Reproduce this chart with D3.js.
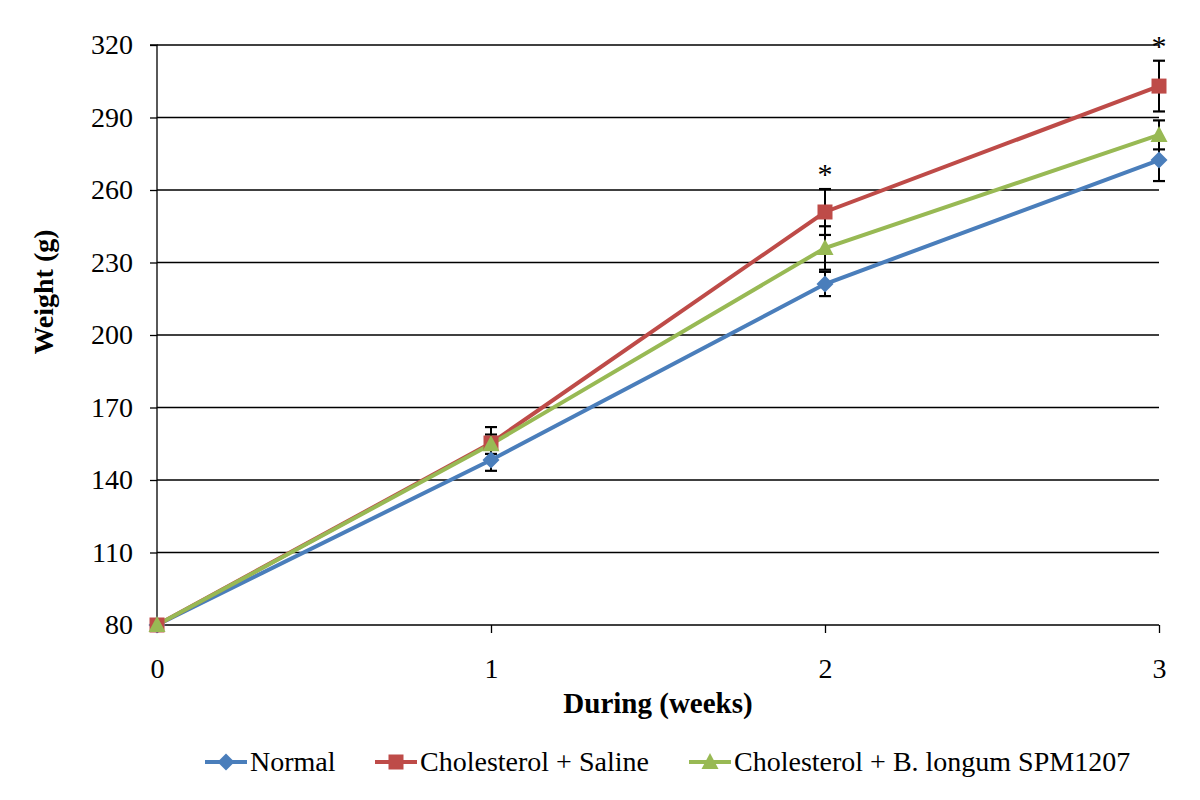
<!DOCTYPE html>
<html><head><meta charset="utf-8">
<script src="https://cdn.jsdelivr.net/npm/d3@7"></script>
<style>body{margin:0;background:#fff}svg{display:block}text{font-family:"Liberation Serif","Times New Roman",serif}</style>
</head><body><svg id="c" width="1200" height="800"></svg>
<script>
const weeks = [0, 1, 2, 3];
const yTicks = [80, 110, 140, 170, 200, 230, 260, 290, 320];
const seriesNames = ["Normal", "Cholesterol + Saline", "Cholesterol + B. longum SPM1207"];
const normal = [80, 148.3, 221.1, 272.4];
const saline = [80, 155.3, 250.9, 303];
const longum = [80, 154.8, 236, 282.8];
const normalErr = [0, 4.5, 5, 8.7];
const salineErr = [0, 6.6, 9.5, 10.5];
const longumErr = [0, 4, 9, 6];
const significant = [false, false, true, true];
const colors = ["#4A7EBB", "#BE4B48", "#98B954"];

const svg = d3.select("#c");
const x = d3.scaleLinear().domain([0, 3]).range([157, 1159]);
const y = d3.scaleLinear().domain([80, 320]).range([625, 45]);

// gridlines
svg.append("g").selectAll("line").data(yTicks.slice(1)).join("line")
  .attr("x1", x(0)).attr("x2", x(3)).attr("y1", d => y(d)).attr("y2", d => y(d))
  .attr("stroke", "#000").attr("stroke-width", 1.3);

// y axis
const ya = svg.append("g").attr("transform", `translate(${x(0)},0)`)
  .call(d3.axisLeft(y).tickValues(yTicks).tickSize(7).tickPadding(17).tickFormat(d3.format("d")));
ya.selectAll("text").attr("font-size", 28).attr("fill", "#000");
ya.selectAll("line,path").attr("stroke", "#000").attr("stroke-width", 1.3);
ya.select(".domain").attr("d", `M-7,${y(320)}H0V${y(80)}H-7`);

// x axis
const xa = svg.append("g").attr("transform", `translate(0,${y(80)})`)
  .call(d3.axisBottom(x).tickValues(weeks).tickSize(8).tickPadding(25).tickFormat(d3.format("d")));
xa.selectAll("text").attr("font-size", 28).attr("fill", "#000");
xa.selectAll("line,path").attr("stroke", "#000").attr("stroke-width", 1.3);
xa.select(".domain").attr("d", `M${x(0)},0H${x(3)}`);

// axis titles
svg.append("text").attr("x", 658).attr("y", 713).attr("text-anchor", "middle")
  .attr("font-size", 29).attr("font-weight", "bold").text("During (weeks)");
svg.append("text").attr("transform", "translate(53,292) rotate(-90)").attr("text-anchor", "middle")
  .attr("font-size", 28).attr("font-weight", "bold").text("Weight (g)");

const data = [
  {vals: normal, err: normalErr, shape: "diamond"},
  {vals: saline, err: salineErr, shape: "square"},
  {vals: longum, err: longumErr, shape: "triangle"}
];

// error bars
const eb = svg.append("g");
data.forEach(s => {
  weeks.forEach((w, i) => {
    if (!s.err[i]) return;
    const cx = x(w), hi = y(s.vals[i] + s.err[i]), lo = y(s.vals[i] - s.err[i]);
    eb.append("line").attr("x1", cx).attr("x2", cx).attr("y1", hi).attr("y2", lo).attr("stroke", "#000").attr("stroke-width", 2);
    [hi, lo].forEach(v => eb.append("line").attr("x1", cx - 6).attr("x2", cx + 6).attr("y1", v).attr("y2", v).attr("stroke", "#000").attr("stroke-width", 2.2));
  });
});

function marker(g, shape, cx, cy, color) {
  if (shape === "diamond") {
    g.append("path").attr("d", `M${cx},${cy-8.5}L${cx+8.5},${cy}L${cx},${cy+8.5}L${cx-8.5},${cy}Z`).attr("fill", color);
  } else if (shape === "square") {
    g.append("rect").attr("x", cx - 7.5).attr("y", cy - 7.5).attr("width", 15).attr("height", 15).attr("fill", color);
  } else {
    g.append("path").attr("d", `M${cx},${cy-9}L${cx+8.5},${cy+7}L${cx-8.5},${cy+7}Z`).attr("fill", color);
  }
}

const line = d3.line().x((d, i) => x(weeks[i])).y(d => y(d));
data.forEach((s, k) => {
  svg.append("path").attr("d", line(s.vals)).attr("fill", "none").attr("stroke", colors[k]).attr("stroke-width", 4);
});
data.forEach((s, k) => {
  const g = svg.append("g");
  s.vals.forEach((v, i) => marker(g, s.shape, x(weeks[i]), y(v), colors[k]));
});

// significance asterisks
weeks.forEach((w, i) => {
  if (!significant[i]) return;
  svg.append("text").attr("x", x(w)).attr("y", y(saline[i] + salineErr[i]) - 5)
    .attr("text-anchor", "middle").attr("font-size", 30).text("*");
});

// legend
const legX = [205, 375, 689];
data.forEach((s, k) => {
  const g = svg.append("g");
  g.append("line").attr("x1", legX[k]).attr("x2", legX[k] + 42).attr("y1", 762).attr("y2", 762)
    .attr("stroke", colors[k]).attr("stroke-width", 4);
  marker(g, s.shape, legX[k] + 21, 762, colors[k]);
  g.append("text").attr("x", legX[k] + 45).attr("y", 771).attr("font-size", 28).text(seriesNames[k]);
});
</script></body></html>
